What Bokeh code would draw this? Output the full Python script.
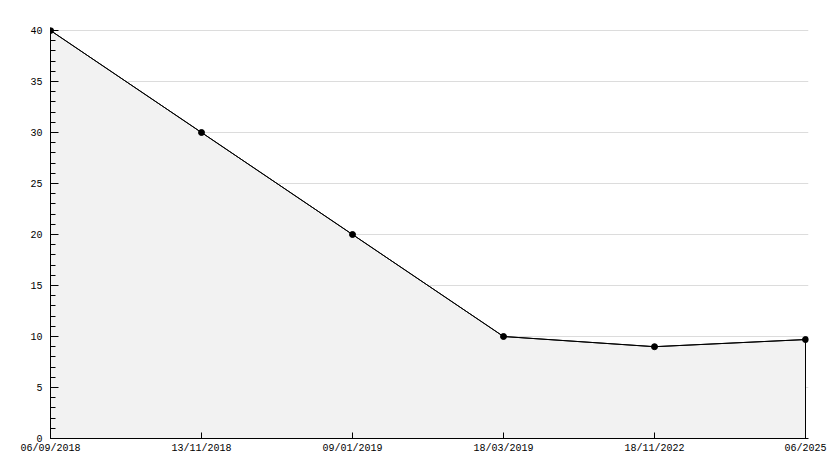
from bokeh.plotting import figure
from bokeh.models import SingleIntervalTicker, FixedTicker, Range1d
from bokeh.embed import file_html
from bokeh.resources import INLINE

dates = ["06/09/2018", "13/11/2018", "09/01/2019", "18/03/2019", "18/11/2022", "06/2025"]
values = [40, 30, 20, 10, 9, 9.7]

xs = list(range(len(dates)))

# small padding on top/right so end markers aren't clipped
FW, FH = 758, 411
p = figure(frame_width=FW, frame_height=FH, output_backend="svg", toolbar_location=None,
           min_border_left=50, min_border_right=22, min_border_top=27, min_border_bottom=25,
           x_range=Range1d(0, (len(dates) - 1) * FW / 755), y_range=Range1d(0, 40 * FH / 408))
p.outline_line_color = None
p.background_fill_color = "white"
p.border_fill_color = "white"

px = [xs[0]] + xs + [xs[-1]]
py = [0] + values + [0]
p.patch(px, py, fill_color="#f2f2f2", line_color="black", line_width=1)
p.line(xs, values, line_color="black", line_width=1)
p.scatter(xs, values, marker="circle", size=6, color="black")

p.xgrid.grid_line_color = None
p.ygrid.grid_line_color = "#dcdcdc"
p.ygrid.grid_line_width = 1

p.yaxis.ticker = SingleIntervalTicker(interval=5, num_minor_ticks=5)
p.xaxis.ticker = FixedTicker(ticks=xs)
p.xaxis.major_label_overrides = {i: d for i, d in enumerate(dates)}

for ax in (p.xaxis[0], p.yaxis[0]):
    ax.axis_line_color = "black"
    ax.axis_line_width = 1
    ax.major_tick_line_color = "black"
    ax.minor_tick_line_color = "black"
    ax.major_tick_out = 0
    ax.minor_tick_out = 0
    ax.major_label_text_font = "Liberation Mono"
    ax.major_label_text_font_size = "10px"
    ax.major_label_text_color = "black"

p.yaxis.major_tick_in = 8
p.yaxis.minor_tick_in = 5
p.yaxis.major_label_standoff = 8
p.xaxis.major_tick_in = 6
p.xaxis.minor_tick_line_color = None
p.xaxis.major_label_standoff = 4

open("out.html", "w").write(file_html(p, INLINE))
